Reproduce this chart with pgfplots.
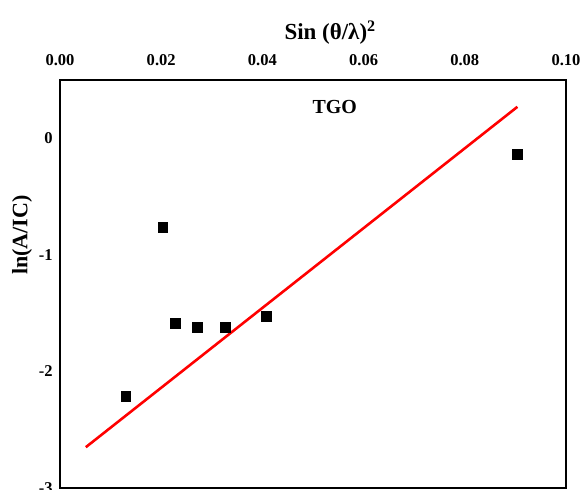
\documentclass[border=0pt]{standalone}
\usepackage{pgfplots}
\pgfplotsset{compat=1.18}
\usepackage{fontspec}
\setmainfont{Liberation Serif}

\begin{document}
\begin{tikzpicture}
\begin{axis}[
    at={(0,0)}, anchor=south west,
    scale only axis,
    width=15.18cm, height=12.24cm,
    xmin=0, xmax=0.1,
    ymin=-3, ymax=0.5,
    xtick={0,0.02,0.04,0.06,0.08,0.1},
    ytick={-3,-2,-1,0},
    major tick length=0pt,
    axis line style={line width=2.2pt},
    xticklabel pos=upper,
    xticklabel style={/pgf/number format/fixed, /pgf/number format/fixed zerofill,
        /pgf/number format/precision=2,
        font=\fontsize{14.1}{16}\selectfont\bfseries, anchor=base, yshift=0.42cm},
    yticklabel style={font=\fontsize{14.1}{16}\selectfont\bfseries, xshift=-0.1cm},
    /pgf/number format/assume math mode=true,
    xlabel={Sin (θ/λ)\textsuperscript{2}},
    xlabel style={font=\fontsize{19.6}{22}\selectfont\bfseries,
        at={(axis description cs:0.534,1)}, anchor=base, yshift=1.2cm},
    ylabel={ln(A/IC)},
    ylabel style={font=\fontsize{18.8}{21}\selectfont\bfseries,
        at={(axis description cs:-0.075,0.62)}, anchor=center},
    clip=false,
]
\addplot[red, line width=2.2pt] coordinates {(0.0051,-2.65) (0.0904,0.27)};
\addplot[only marks, mark=square*, mark size=4.2pt, black] coordinates {
    (0.0130,-2.21) (0.0203,-0.76) (0.0227,-1.59) (0.0272,-1.62)
    (0.0327,-1.62) (0.0408,-1.53) (0.0903,-0.14)
};
\node[font=\fontsize{17}{20}\selectfont\bfseries, anchor=base] at (axis cs:0.0543,0.214) {TGO};
\end{axis}
\pgfresetboundingbox
\useasboundingbox (-1.8,-0.06) rectangle (15.66,14.64);
\end{tikzpicture}
\end{document}
